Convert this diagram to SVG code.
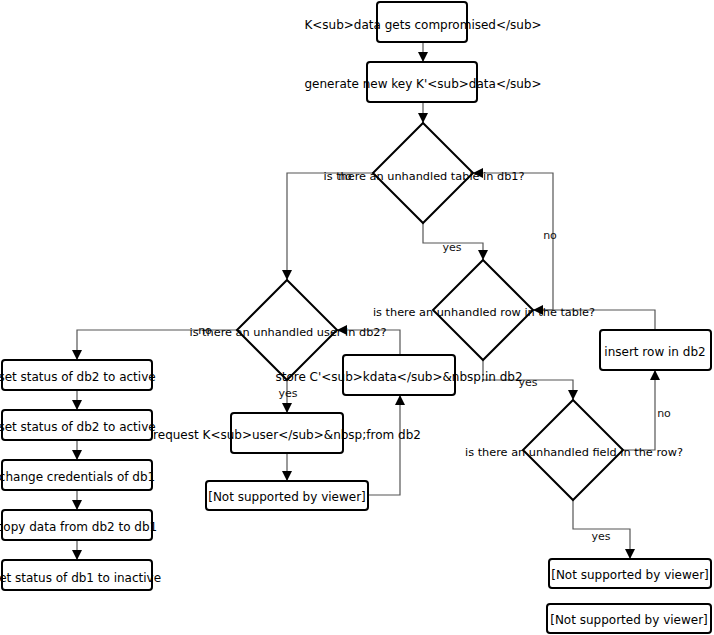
<svg xmlns="http://www.w3.org/2000/svg" width="714" height="635" viewBox="0 0 714 635">
<style>
.box{fill:#fff;stroke:#000;stroke-width:2}
.dia{fill:#fff;stroke:#000;stroke-width:2}
.t{font-family:"DejaVu Sans",sans-serif;font-size:12px;fill:#000;text-anchor:middle}
.dt{font-family:"DejaVu Sans",sans-serif;font-size:11.3px;fill:#000;text-anchor:middle}
.lbl{font-family:"DejaVu Sans",sans-serif;font-size:11px;fill:#111;text-anchor:middle}
.e{fill:none;stroke:#555;stroke-width:1.2;marker-end:url(#ah)}
</style>
<defs>
<marker id="ah" viewBox="0 0 10 10" refX="10" refY="5" markerWidth="10" markerHeight="10" markerUnits="userSpaceOnUse" orient="auto">
<path d="M0,0 L10,5 L0,10 z" fill="#000"/>
</marker>
</defs>
<rect width="714" height="635" fill="#fff"/>
<g id="connectors">
<path class="e" d="M423,42 L423,62"/>
<path class="e" d="M423,102 L423,123"/>
<path class="e" d="M373,173 L287,173 L287,280"/>
<path class="e" d="M423,223 L423,243 L483,243 L483,260"/>
<path class="e" d="M533,310 L553,310 L553,173 L473,173"/>
<path class="e" d="M483,360 L483,380 L573,380 L573,400"/>
<path class="e" d="M623,450 L655,450 L655,370"/>
<path class="e" d="M655,330 L655,310 L533,310"/>
<path class="e" d="M573,500 L573,529 L630,529 L630,559"/>
<path class="e" d="M237,330 L77,330 L77,360"/>
<path class="e" d="M287,380 L287,413"/>
<path class="e" d="M287,453 L287,481"/>
<path class="e" d="M368,495 L400,495 L400,395"/>
<path class="e" d="M400,355 L400,330 L337,330"/>
<path class="e" d="M77,390 L77,410"/>
<path class="e" d="M77,440 L77,460"/>
<path class="e" d="M77,490 L77,510"/>
<path class="e" d="M77,540 L77,560"/>
<text class="lbl" x="345" y="180">no</text>
<text class="lbl" x="452" y="251">yes</text>
<text class="lbl" x="550" y="239">no</text>
<text class="lbl" x="528" y="386">yes</text>
<text class="lbl" x="664" y="417">no</text>
<text class="lbl" x="601" y="540">yes</text>
<text class="lbl" x="205" y="334">no</text>
<text class="lbl" x="288" y="397">yes</text>
</g>
<g id="n1"><rect class="box" x="377" y="2" width="90" height="40" rx="3"/><text class="t" x="423" y="29">K&lt;sub&gt;data gets compromised&lt;/sub&gt;</text></g>
<g id="n2"><rect class="box" x="367" y="62" width="110" height="40" rx="3"/><text class="t" x="423" y="88">generate new key K'&lt;sub&gt;data&lt;/sub&gt;</text></g>
<g id="d1"><polygon class="dia" points="423,123 473,173 423,223 373,173"/><text class="dt" x="424" y="180">is there an unhandled table in db1?</text></g>
<g id="d3"><polygon class="dia" points="483,260 533,310 483,360 433,310"/><text class="dt" x="484" y="316">is there an unhandled row in the table?</text></g>
<g id="d4"><polygon class="dia" points="573,400 623,450 573,500 523,450"/><text class="dt" x="574" y="456">is there an unhandled field in the row?</text></g>
<g id="ins"><rect class="box" x="600" y="330" width="111" height="40" rx="3"/><text class="t" x="655" y="356">insert row in db2</text></g>
<g id="ns1"><rect class="box" x="549" y="559" width="162" height="29" rx="3"/><text class="t" x="630" y="579">[Not supported by viewer]</text></g>
<g id="ns2"><rect class="box" x="547" y="604" width="164" height="29" rx="3"/><text class="t" x="629" y="624">[Not supported by viewer]</text></g>
<g id="d2"><polygon class="dia" points="287,280 337,330 287,380 237,330"/><text class="dt" x="288" y="336">is there an unhandled user in db2?</text></g>
<g id="req"><rect class="box" x="231" y="413" width="112" height="40" rx="3"/><text class="t" x="287" y="439">request K&lt;sub&gt;user&lt;/sub&gt;&amp;nbsp;from db2</text></g>
<g id="ns3"><rect class="box" x="206" y="481" width="162" height="29" rx="3"/><text class="t" x="287" y="501">[Not supported by viewer]</text></g>
<g id="store"><rect class="box" x="343" y="355" width="112" height="40" rx="3"/><text class="t" x="399" y="381">store C'&lt;sub&gt;kdata&lt;/sub&gt;&amp;nbsp;in db2</text></g>
<g id="l1"><rect class="box" x="2" y="360" width="150" height="30" rx="3"/><text class="t" x="77" y="381">set status of db2 to active</text></g>
<g id="l2"><rect class="box" x="2" y="410" width="150" height="30" rx="3"/><text class="t" x="77" y="431">set status of db2 to active</text></g>
<g id="l3"><rect class="box" x="2" y="460" width="150" height="30" rx="3"/><text class="t" x="77" y="481">change credentials of db1</text></g>
<g id="l4"><rect class="box" x="2" y="510" width="150" height="30" rx="3"/><text class="t" x="77" y="531">copy data from db2 to db1</text></g>
<g id="l5"><rect class="box" x="2" y="560" width="150" height="30" rx="3"/><text class="t" x="77" y="582">set status of db1 to inactive</text></g>
</svg>
